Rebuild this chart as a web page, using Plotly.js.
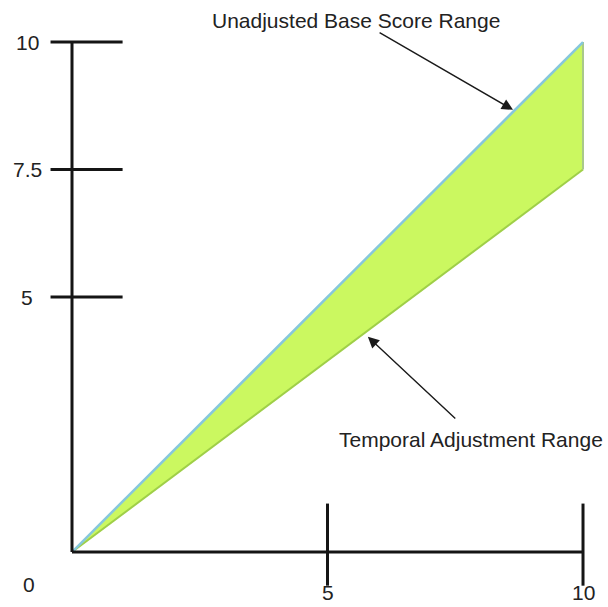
<!DOCTYPE html>
<html>
<head>
<meta charset="utf-8">
<script src="https://cdn.plot.ly/plotly-3.0.1.min.js"></script>
<style>html,body{margin:0;padding:0;background:#fff;}#chart{width:608px;height:607px;}</style>
</head>
<body>
<div id="chart"></div>
<script>
// Data
const xVals = [0, 10];
const baseScore = [0, 10];        // unadjusted base score range (upper edge)
const temporalScore = [0, 7.5];   // temporal adjustment (lower edge)
const yTickVals = [10, 7.5, 5];
const yTickText = ["10", "7.5", "5"];
const xTickVals = [5, 10];
const xTickText = ["5", "10"];
const originLabel = "0";
const labelBase = "Unadjusted Base Score Range";
const labelTemporal = "Temporal Adjustment Range";

// Polygon between the two edges
const polyX = [xVals[0], xVals[1], xVals[1], xVals[0]];
const polyY = [baseScore[0], baseScore[1], temporalScore[1], temporalScore[0]];

const traces = [
  {
    x: polyX, y: polyY, mode: 'lines', fill: 'toself',
    fillcolor: '#cbf860', line: {color: 'rgba(0,0,0,0)', width: 0},
    hoverinfo: 'skip', showlegend: false
  },
  {
    x: xVals, y: temporalScore, mode: 'lines',
    line: {color: '#9fcf48', width: 2}, hoverinfo: 'skip', showlegend: false
  },
  {
    x: [xVals[1], xVals[1]], y: [baseScore[1], temporalScore[1]], mode: 'lines',
    line: {color: '#a9c98a', width: 2}, hoverinfo: 'skip', showlegend: false
  },
  {
    x: xVals, y: baseScore, mode: 'lines',
    line: {color: '#86c7dc', width: 2.5}, hoverinfo: 'skip', showlegend: false
  }
];

const axisColor = '#151515';
const axisW = 3;
const shapes = [];
// y axis line
shapes.push({type: 'line', xref: 'x', yref: 'y', x0: 0, x1: 0, y0: 0, y1: yTickVals[0],
  line: {color: axisColor, width: axisW}});
// x axis line
shapes.push({type: 'line', xref: 'x', yref: 'y', x0: 0, x1: xTickVals[xTickVals.length - 1], y0: 0, y1: 0,
  line: {color: axisColor, width: axisW}});
// y ticks
yTickVals.forEach(v => shapes.push({type: 'line', xref: 'x', yref: 'y', x0: -0.42, x1: 0.99, y0: v, y1: v,
  line: {color: axisColor, width: axisW}}));
// x ticks
xTickVals.forEach(v => shapes.push({type: 'line', xref: 'x', yref: 'y', x0: v, x1: v, y0: -0.66, y1: 0.95,
  line: {color: axisColor, width: axisW}}));

const font = {family: 'Liberation Sans, Arial, sans-serif', size: 21, color: '#222'};
const annotations = [];
yTickVals.forEach((v, i) => annotations.push({x: -0.88, y: v, xref: 'x', yref: 'y', text: yTickText[i],
  showarrow: false, font: font, xanchor: 'center', yanchor: 'middle'}));
annotations.push({x: -0.84, y: -0.63, xref: 'x', yref: 'y', text: originLabel,
  showarrow: false, font: font, xanchor: 'center', yanchor: 'middle'});
xTickVals.forEach((v, i) => annotations.push({x: v, y: -0.8, xref: 'x', yref: 'y', text: xTickText[i],
  showarrow: false, font: font, xanchor: 'center', yanchor: 'middle'}));
annotations.push({x: 5.56, y: 10.43, xref: 'x', yref: 'y', text: labelBase,
  showarrow: false, font: font, xanchor: 'center', yanchor: 'middle'});
annotations.push({x: 7.81, y: 2.2, xref: 'x', yref: 'y', text: labelTemporal,
  showarrow: false, font: font, xanchor: 'center', yanchor: 'middle'});
// arrows
annotations.push({x: 8.63, y: 8.67, ax: 5.99, ay: 10.2, xref: 'x', yref: 'y', axref: 'x', ayref: 'y',
  text: '', showarrow: true, arrowhead: 2, arrowsize: 1.6, arrowwidth: 1.4, arrowcolor: '#1a1a1a'});
annotations.push({x: 5.79, y: 4.22, ax: 7.53, ay: 2.59, xref: 'x', yref: 'y', axref: 'x', ayref: 'y',
  text: '', showarrow: true, arrowhead: 2, arrowsize: 1.6, arrowwidth: 1.4, arrowcolor: '#1a1a1a'});

const layout = {
  width: 608, height: 607,
  margin: {l: 0, r: 0, t: 0, b: 0, pad: 0},
  paper_bgcolor: '#ffffff', plot_bgcolor: '#ffffff',
  xaxis: {range: [-1.409, 10.489], visible: false, fixedrange: true},
  yaxis: {range: [-1.078, 10.824], visible: false, fixedrange: true},
  shapes: shapes, annotations: annotations, showlegend: false
};

Plotly.newPlot('chart', traces, layout, {displayModeBar: false, staticPlot: true});
</script>
</body>
</html>
